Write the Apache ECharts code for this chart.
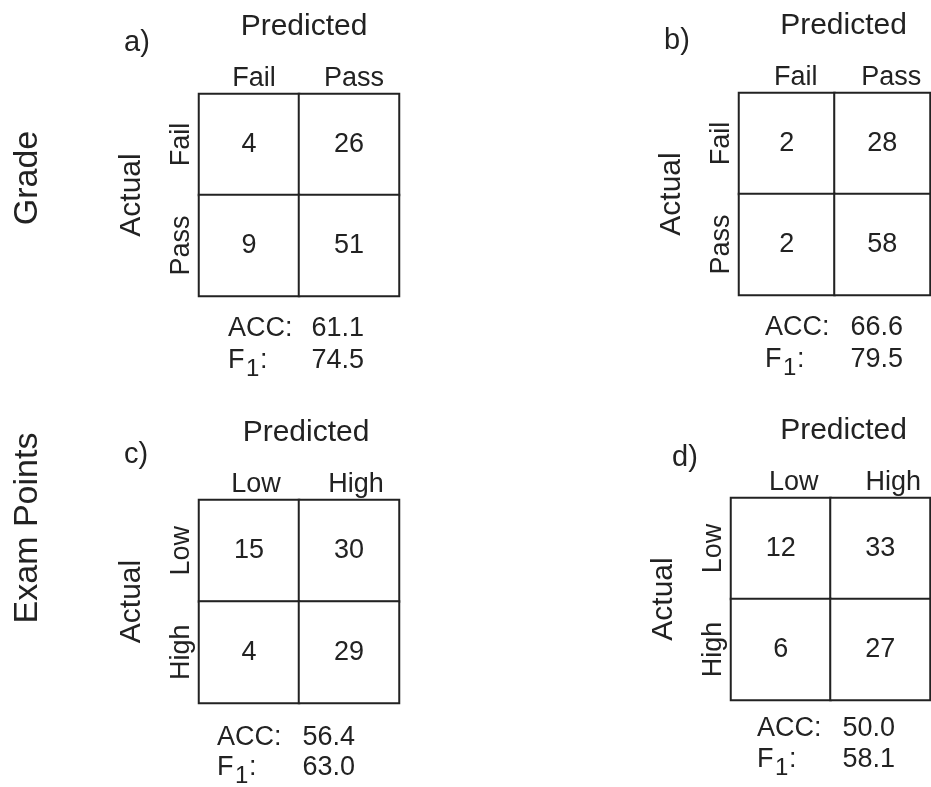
<!DOCTYPE html>
<html>
<head>
<meta charset="utf-8">
<script src="https://cdn.jsdelivr.net/npm/echarts@6/dist/echarts.min.js"></script>
<style>
  html, body { margin: 0; padding: 0; background: #fff; }
  #chart { width: 931px; height: 787px; }
</style>
</head>
<body>
<div id="chart"></div>
<script>
// ---- data ----
const rowNames = ['Grade', 'Exam Points'];
const panelLetters = ['a)', 'b)', 'c)', 'd)'];
const gradeCats = ['Fail', 'Pass'];
const examCats = ['Low', 'High'];
// confusion matrices, row-major: [actual0/pred0, actual0/pred1, actual1/pred0, actual1/pred1]
const matA = [4, 26, 9, 51];
const matB = [2, 28, 2, 58];
const matC = [15, 30, 4, 29];
const matD = [12, 33, 6, 27];
const accValues = ['61.1', '66.6', '56.4', '50.0'];
const f1Values = ['74.5', '79.5', '63.0', '58.1'];

// ---- layout ----
const FONT = '"Liberation Sans", Arial, Helvetica, sans-serif';
const TXT = '#222';
const panels = [
  { mat: matA, cats: gradeCats, grid: { left: 199, top: 94, width: 200, height: 202 }, xoff: 5,
    letter: [137, 43], acc: [228, 329, 364, 361] },
  { mat: matB, cats: gradeCats, grid: { left: 739, top: 93, width: 191, height: 202 }, xoff: 9,
    letter: [677, 41], acc: [765, 328, 903, 360] },
  { mat: matC, cats: examCats, grid: { left: 199, top: 500, width: 200, height: 203 }, xoff: 7,
    letter: [136, 455], acc: [217, 738, 355, 768] },
  { mat: matD, cats: examCats, grid: { left: 731, top: 498, width: 199, height: 202 }, xoff: 13,
    letter: [685, 458], acc: [757, 729, 895, 760] }
];

const grids = [], xAxes = [], yAxes = [], series = [], graphics = [];
panels.forEach((p, i) => {
  grids.push(p.grid);
  xAxes.push({
    type: 'category', gridIndex: i, position: 'top', data: p.cats,
    axisLine: { show: false }, axisTick: { show: false }, splitLine: { show: false },
    axisLabel: { fontSize: 27, color: TXT, fontFamily: FONT, margin: 2, padding: [0, 0, 0, 2 * p.xoff] },
    name: 'Predicted', nameLocation: 'middle', nameGap: 52,
    nameTextStyle: { fontSize: 30, color: TXT, fontFamily: FONT, padding: [0, 0, 0, 2 * p.xoff] }
  });
  yAxes.push({
    type: 'category', gridIndex: i, inverse: true, data: p.cats,
    axisLine: { show: false }, axisTick: { show: false }, splitLine: { show: false },
    axisLabel: { fontSize: 27, color: TXT, fontFamily: FONT, margin: 4, rotate: 90 },
    name: 'Actual', nameLocation: 'middle', nameGap: 52, nameRotate: 90,
    nameTextStyle: { fontSize: 30, color: TXT, fontFamily: FONT }
  });
  const data = [];
  for (let r = 0; r < 2; r++) for (let c = 0; c < 2; c++) data.push([c, r, p.mat[r * 2 + c]]);
  series.push({
    type: 'heatmap', xAxisIndex: i, yAxisIndex: i, data: data,
    itemStyle: { color: '#fff', borderColor: '#222', borderWidth: 2 },
    label: { show: true, fontSize: 27, color: TXT, fontFamily: FONT, formatter: d => d.value[2] },
    emphasis: { disabled: true }
  });
  // panel letter
  graphics.push({ type: 'text', x: p.letter[0], y: p.letter[1],
    style: { text: panelLetters[i], fontSize: 29, fontFamily: FONT, fill: TXT, textAlign: 'center', textVerticalAlign: 'middle' } });
  // ACC line
  const [ax, ay, rx, fy] = p.acc;
  graphics.push({ type: 'text', x: ax, y: ay,
    style: { text: 'ACC:', fontSize: 27, fontFamily: FONT, fill: TXT, textAlign: 'left', textVerticalAlign: 'middle' } });
  graphics.push({ type: 'text', x: rx, y: ay,
    style: { text: accValues[i], fontSize: 27, fontFamily: FONT, fill: TXT, textAlign: 'right', textVerticalAlign: 'middle' } });
  // F1 line
  graphics.push({ type: 'text', x: ax, y: fy,
    style: { text: 'F', fontSize: 27, fontFamily: FONT, fill: TXT, textAlign: 'left', textVerticalAlign: 'middle' } });
  graphics.push({ type: 'text', x: ax + 18, y: fy + 8,
    style: { text: '1', fontSize: 24, fontFamily: FONT, fill: TXT, textAlign: 'left', textVerticalAlign: 'middle' } });
  graphics.push({ type: 'text', x: ax + 32, y: fy,
    style: { text: ':', fontSize: 27, fontFamily: FONT, fill: TXT, textAlign: 'left', textVerticalAlign: 'middle' } });
  graphics.push({ type: 'text', x: rx, y: fy,
    style: { text: f1Values[i], fontSize: 27, fontFamily: FONT, fill: TXT, textAlign: 'right', textVerticalAlign: 'middle' } });
});
// row labels
[[28, 178], [28, 528]].forEach((pos, i) => {
  graphics.push({ type: 'text', x: pos[0], y: pos[1], rotation: Math.PI / 2,
    style: { text: rowNames[i], fontSize: 34, fontFamily: FONT, fill: TXT, textAlign: 'center', textVerticalAlign: 'middle' } });
});

const chart = echarts.init(document.getElementById('chart'), null, { renderer: 'canvas' });
chart.setOption({
  animation: false,
  backgroundColor: '#fff',
  grid: grids,
  xAxis: xAxes,
  yAxis: yAxes,
  visualMap: { show: false, min: 0, max: 100, seriesIndex: [0, 1, 2, 3], inRange: { color: ['#ffffff', '#ffffff'] } },
  series: series,
  graphic: graphics
});
</script>
</body>
</html>
